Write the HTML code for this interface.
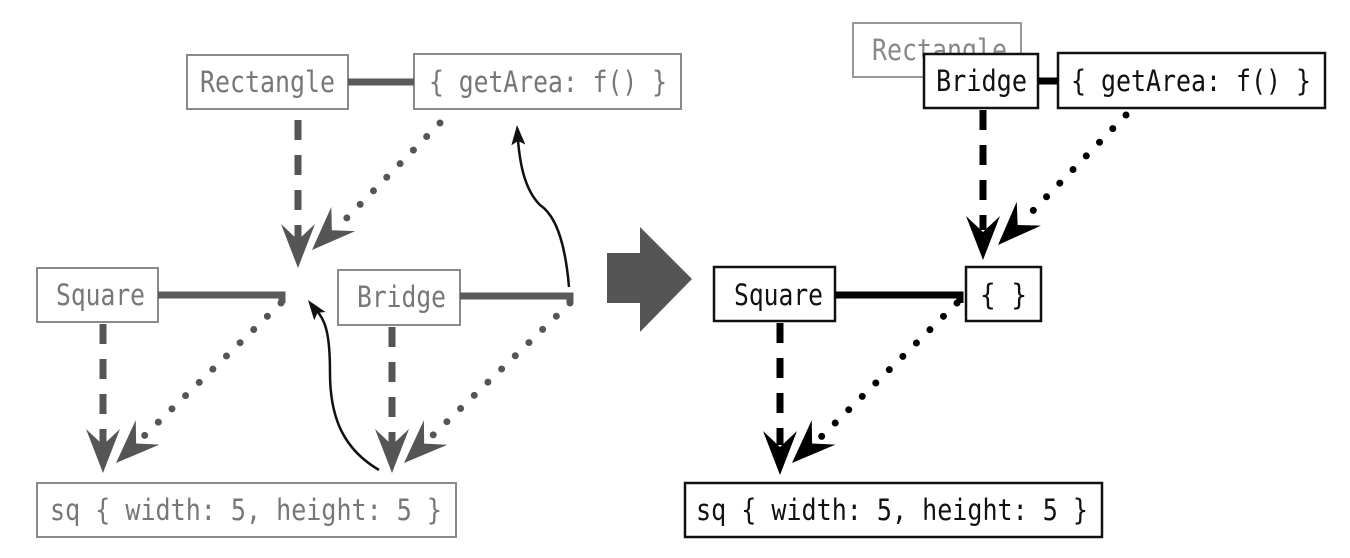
<!DOCTYPE html>
<html><head><meta charset="utf-8"><style>
html,body{margin:0;padding:0;background:#fff;}
svg{display:block;}
text{font-family:"DejaVu Sans Mono","Liberation Mono",monospace;font-size:29px;}
</style></head><body>
<svg id="s" width="1350" height="558" viewBox="0 0 1350 558" xmlns="http://www.w3.org/2000/svg">
<g fill="none">
  <g><rect x="187" y="55" width="161" height="54" stroke="#8a8a8a" stroke-width="2" fill="#fff"/><text x="200" y="92" textLength="135" lengthAdjust="spacingAndGlyphs" fill="#777">Rectangle</text></g>
  <g><rect x="414" y="54" width="267" height="55" stroke="#8a8a8a" stroke-width="2" fill="#fff"/><text x="429" y="92" textLength="238" lengthAdjust="spacingAndGlyphs" fill="#777">{ getArea: f() }</text></g>
  <g><rect x="37" y="268" width="121" height="54" stroke="#8a8a8a" stroke-width="2" fill="#fff"/><text x="56" y="305" textLength="89" lengthAdjust="spacingAndGlyphs" fill="#777">Square</text></g>
  <g><rect x="338" y="270" width="122" height="55" stroke="#8a8a8a" stroke-width="2" fill="#fff"/><text x="357" y="307" textLength="89" lengthAdjust="spacingAndGlyphs" fill="#777">Bridge</text></g>
  <g><rect x="37" y="483" width="419" height="54" stroke="#8a8a8a" stroke-width="2" fill="#fff"/><text x="50" y="520" textLength="392" lengthAdjust="spacingAndGlyphs" fill="#777">sq { width: 5, height: 5 }</text></g>
  <line x1="348" y1="82" x2="414" y2="82" stroke="#5a5a5a" stroke-width="7"/>
  <path d="M158 295 H282 V303" stroke="#5a5a5a" stroke-width="7"/>
  <path d="M460 296 H570 V303" stroke="#5a5a5a" stroke-width="7"/>
  <line x1="298" y1="120" x2="298" y2="240" stroke="#555" stroke-width="7" stroke-dasharray="20 15"/>
  <line x1="440" y1="123" x2="335" y2="230" stroke="#555" stroke-width="7" stroke-linecap="round" stroke-dasharray="0 19"/>
  <line x1="103" y1="324" x2="103" y2="445" stroke="#555" stroke-width="7" stroke-dasharray="20 15"/>
  <line x1="281" y1="303" x2="142" y2="438" stroke="#555" stroke-width="7" stroke-linecap="round" stroke-dasharray="0 19"/>
  <line x1="392" y1="327" x2="392" y2="445" stroke="#555" stroke-width="7" stroke-dasharray="20 15"/>
  <line x1="570" y1="303" x2="430" y2="438" stroke="#555" stroke-width="7" stroke-linecap="round" stroke-dasharray="0 19"/>
  <path d="M379 470 C345 450 330 420 330 373 C330 330 325 318 312 306" stroke="#111" stroke-width="2.5"/>
  <path d="M569 287 C565 240 555 215 540 205 C525 190 520 165 518 140" stroke="#111" stroke-width="2.5"/>
</g>
<polygon points="607,253 640,253 640,227 692,279 640,332 640,303 607,303" fill="#555"/>
<g fill="none">
  <g><rect x="853" y="23" width="168" height="54" stroke="#999" stroke-width="2" fill="#fff"/><text x="872" y="60" textLength="135" lengthAdjust="spacingAndGlyphs" fill="#888">Rectangle</text></g>
  <g><rect x="924" y="54" width="114" height="54" stroke="#111" stroke-width="2.5" fill="#fff"/><text x="936" y="91" textLength="91" lengthAdjust="spacingAndGlyphs" fill="#111">Bridge</text></g>
  <g><rect x="1058" y="53" width="267" height="55" stroke="#111" stroke-width="2.5" fill="#fff"/><text x="1071" y="91" textLength="240" lengthAdjust="spacingAndGlyphs" fill="#111">{ getArea: f() }</text></g>
  <g><rect x="714" y="267" width="121" height="54" stroke="#111" stroke-width="2.5" fill="#fff"/><text x="734" y="305" textLength="89" lengthAdjust="spacingAndGlyphs" fill="#111">Square</text></g>
  <g><rect x="966" y="267" width="75" height="54" stroke="#111" stroke-width="2.5" fill="#fff"/><text x="980" y="305" textLength="47" lengthAdjust="spacingAndGlyphs" fill="#111">{ }</text></g>
  <g><rect x="685" y="483" width="417" height="54" stroke="#111" stroke-width="2.5" fill="#fff"/><text x="696" y="520" textLength="392" lengthAdjust="spacingAndGlyphs" fill="#111">sq { width: 5, height: 5 }</text></g>
  <line x1="1038" y1="81" x2="1058" y2="81" stroke="#000" stroke-width="7"/>
  <path d="M835 295 H960 V303" stroke="#000" stroke-width="7"/>
  <line x1="983" y1="110" x2="983" y2="230" stroke="#000" stroke-width="7" stroke-dasharray="20 15"/>
  <line x1="1126" y1="115" x2="1022" y2="222" stroke="#000" stroke-width="7" stroke-linecap="round" stroke-dasharray="0 19"/>
  <line x1="780" y1="323" x2="780" y2="445" stroke="#000" stroke-width="7" stroke-dasharray="20 15"/>
  <line x1="957" y1="303" x2="818" y2="440" stroke="#000" stroke-width="7" stroke-linecap="round" stroke-dasharray="0 19"/>
</g>
<g id="heads"></g>
</svg>
<script>
var heads=document.getElementById('heads');
function head(x1,y1,x2,y2,col,len,hw,notch,name){
  var dx=x2-x1,dy=y2-y1,l=Math.hypot(dx,dy),ux=dx/l,uy=dy/l,px=-uy,py=ux;
  var bx=x2-ux*len,by=y2-uy*len,nx=x2-ux*notch,ny=y2-uy*notch;
  var p=document.createElementNS('http://www.w3.org/2000/svg','polygon');
  p.setAttribute('points',[x2,y2,bx+px*hw,by+py*hw,nx,ny,bx-px*hw,by-py*hw].join(','));
  p.setAttribute('fill',col);
  
  
  heads.appendChild(p);
}
var g='#555',k='#000';
head(298,200,298,268,g,44,17,28,'arrowhead');
head(440,123,312,250,g,44,17,28,'arrowhead');
head(103,400,103,473,g,44,17,28,'arrowhead');
head(281,303,116,463,g,44,17,28,'arrowhead');
head(392,400,392,473,g,44,17,28,'arrowhead');
head(570,303,404,463,g,44,17,28,'arrowhead');
head(330,330,308,300,'#111',20,7,16,'arrowhead');
head(520,170,517,125,'#111',20,7,16,'arrowhead');
head(983,200,983,260,k,44,17,28,'arrowhead');
head(1126,115,998,245,k,44,17,28,'arrowhead');
head(780,400,780,475,k,44,17,28,'arrowhead');
head(957,303,792,463,k,44,17,28,'arrowhead');
</script>
</body></html>
